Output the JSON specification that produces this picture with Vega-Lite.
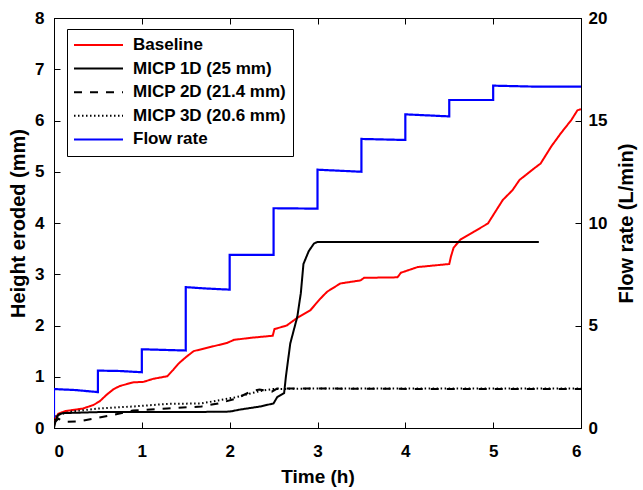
{
  "$schema": "https://vega.github.io/schema/vega-lite/v6.json",
  "width": 527,
  "height": 410,
  "autosize": "none",
  "padding": {"left": 54, "top": 18, "right": 62, "bottom": 62},
  "background": "white",
  "config": {
    "font": "Liberation Sans",
    "view": {"stroke": "black", "strokeWidth": 1},
    "axis": {
      "grid": false,
      "labelFont": "Liberation Sans",
      "labelFontWeight": "bold",
      "labelFontSize": 17,
      "labelColor": "black",
      "titleFont": "Liberation Sans",
      "titleFontWeight": "bold",
      "titleColor": "black",
      "tickColor": "black",
      "domainColor": "black",
      "tickSize": -6,
      "tickWidth": 1
    },
    "legend": {
      "labelFont": "Liberation Sans",
      "labelFontWeight": "bold",
      "labelFontSize": 17,
      "labelColor": "black",
      "symbolType": "stroke",
      "symbolSize": 2401,
      "symbolStrokeWidth": 2,
      "clipHeight": 20,
      "rowPadding": 3.6,
      "padding": 6,
      "labelOffset": 9,
      "strokeColor": "black",
      "fillColor": "white"
    }
  },
  "datasets": {
    "height": [
      {"t": 0, "h": 0.05, "series": "Baseline"},
      {"t": 0.02, "h": 0.2, "series": "Baseline"},
      {"t": 0.05, "h": 0.28, "series": "Baseline"},
      {"t": 0.13, "h": 0.33, "series": "Baseline"},
      {"t": 0.33, "h": 0.38, "series": "Baseline"},
      {"t": 0.45, "h": 0.45, "series": "Baseline"},
      {"t": 0.52, "h": 0.52, "series": "Baseline"},
      {"t": 0.6, "h": 0.65, "series": "Baseline"},
      {"t": 0.68, "h": 0.76, "series": "Baseline"},
      {"t": 0.75, "h": 0.82, "series": "Baseline"},
      {"t": 0.9, "h": 0.89, "series": "Baseline"},
      {"t": 1.02, "h": 0.9, "series": "Baseline"},
      {"t": 1.13, "h": 0.96, "series": "Baseline"},
      {"t": 1.29, "h": 1.01, "series": "Baseline"},
      {"t": 1.36, "h": 1.14, "series": "Baseline"},
      {"t": 1.42, "h": 1.26, "series": "Baseline"},
      {"t": 1.5, "h": 1.38, "series": "Baseline"},
      {"t": 1.59, "h": 1.5, "series": "Baseline"},
      {"t": 1.78, "h": 1.58, "series": "Baseline"},
      {"t": 1.97, "h": 1.66, "series": "Baseline"},
      {"t": 2.05, "h": 1.72, "series": "Baseline"},
      {"t": 2.24, "h": 1.76, "series": "Baseline"},
      {"t": 2.49, "h": 1.8, "series": "Baseline"},
      {"t": 2.51, "h": 1.93, "series": "Baseline"},
      {"t": 2.65, "h": 2.0, "series": "Baseline"},
      {"t": 2.77, "h": 2.15, "series": "Baseline"},
      {"t": 2.92, "h": 2.3, "series": "Baseline"},
      {"t": 2.97, "h": 2.4, "series": "Baseline"},
      {"t": 3.03, "h": 2.52, "series": "Baseline"},
      {"t": 3.11, "h": 2.66, "series": "Baseline"},
      {"t": 3.26, "h": 2.82, "series": "Baseline"},
      {"t": 3.49, "h": 2.88, "series": "Baseline"},
      {"t": 3.53, "h": 2.93, "series": "Baseline"},
      {"t": 3.91, "h": 2.94, "series": "Baseline"},
      {"t": 3.95, "h": 3.03, "series": "Baseline"},
      {"t": 4.14, "h": 3.14, "series": "Baseline"},
      {"t": 4.5, "h": 3.2, "series": "Baseline"},
      {"t": 4.52, "h": 3.35, "series": "Baseline"},
      {"t": 4.55, "h": 3.52, "series": "Baseline"},
      {"t": 4.63, "h": 3.68, "series": "Baseline"},
      {"t": 4.78, "h": 3.83, "series": "Baseline"},
      {"t": 4.94, "h": 3.99, "series": "Baseline"},
      {"t": 5.01, "h": 4.18, "series": "Baseline"},
      {"t": 5.11, "h": 4.45, "series": "Baseline"},
      {"t": 5.22, "h": 4.64, "series": "Baseline"},
      {"t": 5.3, "h": 4.84, "series": "Baseline"},
      {"t": 5.47, "h": 5.07, "series": "Baseline"},
      {"t": 5.54, "h": 5.16, "series": "Baseline"},
      {"t": 5.66, "h": 5.49, "series": "Baseline"},
      {"t": 5.77, "h": 5.75, "series": "Baseline"},
      {"t": 5.89, "h": 6.01, "series": "Baseline"},
      {"t": 5.96, "h": 6.2, "series": "Baseline"},
      {"t": 6.0, "h": 6.22, "series": "Baseline"},

      {"t": 0, "h": 0.0, "series": "MICP 1D (25 mm)"},
      {"t": 0.02, "h": 0.15, "series": "MICP 1D (25 mm)"},
      {"t": 0.05, "h": 0.26, "series": "MICP 1D (25 mm)"},
      {"t": 0.1, "h": 0.29, "series": "MICP 1D (25 mm)"},
      {"t": 0.5, "h": 0.31, "series": "MICP 1D (25 mm)"},
      {"t": 1.0, "h": 0.31, "series": "MICP 1D (25 mm)"},
      {"t": 1.5, "h": 0.31, "series": "MICP 1D (25 mm)"},
      {"t": 2.0, "h": 0.32, "series": "MICP 1D (25 mm)"},
      {"t": 2.12, "h": 0.36, "series": "MICP 1D (25 mm)"},
      {"t": 2.35, "h": 0.42, "series": "MICP 1D (25 mm)"},
      {"t": 2.5, "h": 0.48, "series": "MICP 1D (25 mm)"},
      {"t": 2.54, "h": 0.6, "series": "MICP 1D (25 mm)"},
      {"t": 2.62, "h": 0.68, "series": "MICP 1D (25 mm)"},
      {"t": 2.64, "h": 1.0, "series": "MICP 1D (25 mm)"},
      {"t": 2.69, "h": 1.65, "series": "MICP 1D (25 mm)"},
      {"t": 2.77, "h": 2.17, "series": "MICP 1D (25 mm)"},
      {"t": 2.81, "h": 2.63, "series": "MICP 1D (25 mm)"},
      {"t": 2.84, "h": 3.2, "series": "MICP 1D (25 mm)"},
      {"t": 2.9, "h": 3.45, "series": "MICP 1D (25 mm)"},
      {"t": 2.96, "h": 3.6, "series": "MICP 1D (25 mm)"},
      {"t": 3.0, "h": 3.63, "series": "MICP 1D (25 mm)"},
      {"t": 4.0, "h": 3.63, "series": "MICP 1D (25 mm)"},
      {"t": 5.0, "h": 3.63, "series": "MICP 1D (25 mm)"},
      {"t": 5.52, "h": 3.63, "series": "MICP 1D (25 mm)"},

      {"t": 0, "h": 0.1, "series": "MICP 2D (21.4 mm)"},
      {"t": 0.05, "h": 0.18, "series": "MICP 2D (21.4 mm)"},
      {"t": 0.13, "h": 0.12, "series": "MICP 2D (21.4 mm)"},
      {"t": 0.28, "h": 0.13, "series": "MICP 2D (21.4 mm)"},
      {"t": 0.47, "h": 0.19, "series": "MICP 2D (21.4 mm)"},
      {"t": 0.66, "h": 0.25, "series": "MICP 2D (21.4 mm)"},
      {"t": 0.9, "h": 0.34, "series": "MICP 2D (21.4 mm)"},
      {"t": 1.29, "h": 0.38, "series": "MICP 2D (21.4 mm)"},
      {"t": 1.68, "h": 0.42, "series": "MICP 2D (21.4 mm)"},
      {"t": 1.87, "h": 0.48, "series": "MICP 2D (21.4 mm)"},
      {"t": 2.07, "h": 0.57, "series": "MICP 2D (21.4 mm)"},
      {"t": 2.25, "h": 0.72, "series": "MICP 2D (21.4 mm)"},
      {"t": 2.34, "h": 0.75, "series": "MICP 2D (21.4 mm)"},
      {"t": 2.48, "h": 0.71, "series": "MICP 2D (21.4 mm)"},
      {"t": 2.54, "h": 0.77, "series": "MICP 2D (21.4 mm)"},
      {"t": 3.0, "h": 0.77, "series": "MICP 2D (21.4 mm)"},
      {"t": 4.5, "h": 0.76, "series": "MICP 2D (21.4 mm)"},
      {"t": 6.0, "h": 0.76, "series": "MICP 2D (21.4 mm)"},

      {"t": 0, "h": 0.15, "series": "MICP 3D (20.6 mm)"},
      {"t": 0.03, "h": 0.25, "series": "MICP 3D (20.6 mm)"},
      {"t": 0.2, "h": 0.32, "series": "MICP 3D (20.6 mm)"},
      {"t": 0.5, "h": 0.38, "series": "MICP 3D (20.6 mm)"},
      {"t": 0.9, "h": 0.42, "series": "MICP 3D (20.6 mm)"},
      {"t": 1.29, "h": 0.47, "series": "MICP 3D (20.6 mm)"},
      {"t": 1.68, "h": 0.48, "series": "MICP 3D (20.6 mm)"},
      {"t": 2.07, "h": 0.6, "series": "MICP 3D (20.6 mm)"},
      {"t": 2.34, "h": 0.72, "series": "MICP 3D (20.6 mm)"},
      {"t": 2.49, "h": 0.76, "series": "MICP 3D (20.6 mm)"},
      {"t": 3.0, "h": 0.77, "series": "MICP 3D (20.6 mm)"},
      {"t": 6.0, "h": 0.77, "series": "MICP 3D (20.6 mm)"}
    ],
    "flow": [
      {"i": 0, "t": 0, "q": 0.5, "series": "Flow rate"},
      {"i": 1, "t": 0, "q": 1.9, "series": "Flow rate"},
      {"i": 2, "t": 0.25, "q": 1.85, "series": "Flow rate"},
      {"i": 3, "t": 0.5, "q": 1.75, "series": "Flow rate"},
      {"i": 4, "t": 0.5, "q": 2.8, "series": "Flow rate"},
      {"i": 5, "t": 0.75, "q": 2.78, "series": "Flow rate"},
      {"i": 6, "t": 1.0, "q": 2.72, "series": "Flow rate"},
      {"i": 7, "t": 1.0, "q": 3.84, "series": "Flow rate"},
      {"i": 8, "t": 1.5, "q": 3.78, "series": "Flow rate"},
      {"i": 9, "t": 1.5, "q": 6.87, "series": "Flow rate"},
      {"i": 10, "t": 1.75, "q": 6.8, "series": "Flow rate"},
      {"i": 11, "t": 2.0, "q": 6.75, "series": "Flow rate"},
      {"i": 12, "t": 2.0, "q": 8.45, "series": "Flow rate"},
      {"i": 13, "t": 2.5, "q": 8.45, "series": "Flow rate"},
      {"i": 14, "t": 2.5, "q": 10.72, "series": "Flow rate"},
      {"i": 15, "t": 3.0, "q": 10.7, "series": "Flow rate"},
      {"i": 16, "t": 3.0, "q": 12.6, "series": "Flow rate"},
      {"i": 17, "t": 3.5, "q": 12.5, "series": "Flow rate"},
      {"i": 18, "t": 3.5, "q": 14.1, "series": "Flow rate"},
      {"i": 19, "t": 4.0, "q": 14.05, "series": "Flow rate"},
      {"i": 20, "t": 4.0, "q": 15.3, "series": "Flow rate"},
      {"i": 21, "t": 4.5, "q": 15.2, "series": "Flow rate"},
      {"i": 22, "t": 4.5, "q": 16.0, "series": "Flow rate"},
      {"i": 23, "t": 5.0, "q": 16.0, "series": "Flow rate"},
      {"i": 24, "t": 5.0, "q": 16.7, "series": "Flow rate"},
      {"i": 25, "t": 5.5, "q": 16.65, "series": "Flow rate"},
      {"i": 26, "t": 6.0, "q": 16.65, "series": "Flow rate"}
    ]
  },
  "layer": [
    {
      "data": {"name": "height"},
      "mark": {"type": "line", "strokeWidth": 2, "clip": true},
      "encoding": {
        "x": {
          "field": "t", "type": "quantitative",
          "scale": {"domain": [0, 6], "nice": false, "zero": false},
          "axis": {"orient": "bottom", "title": "Time (h)", "values": [0, 1, 2, 3, 4, 5, 6], "titleFontSize": 19, "labelPadding": 21, "titlePadding": 8}
        },
        "y": {
          "field": "h", "type": "quantitative",
          "scale": {"domain": [0, 8], "nice": false},
          "axis": {"orient": "left", "title": "Height eroded (mm)", "values": [0, 1, 2, 3, 4, 5, 6, 7, 8], "titleFontSize": 20, "labelPadding": 16, "titlePadding": 6}
        },
        "color": {
          "field": "series", "type": "nominal",
          "scale": {
            "domain": ["Baseline", "MICP 1D (25 mm)", "MICP 2D (21.4 mm)", "MICP 3D (20.6 mm)", "Flow rate"],
            "range": ["#ff0000", "#000000", "#000000", "#000000", "#0000ff"]
          },
          "legend": {"title": null, "orient": "none", "legendX": 13, "legendY": 11}
        },
        "strokeDash": {
          "field": "series", "type": "nominal",
          "scale": {
            "domain": ["Baseline", "MICP 1D (25 mm)", "MICP 2D (21.4 mm)", "MICP 3D (20.6 mm)", "Flow rate"],
            "range": [[1, 0], [1, 0], [8, 8], [1.5, 2.5], [1, 0]]
          },
          "legend": {"title": null, "orient": "none", "legendX": 13, "legendY": 11}
        }
      }
    },
    {
      "data": {"name": "flow"},
      "mark": {"type": "line", "strokeWidth": 2.2, "clip": true},
      "encoding": {
        "x": {
          "field": "t", "type": "quantitative",
          "scale": {"domain": [0, 6], "nice": false, "zero": false},
          "axis": {"orient": "top", "title": null, "labels": false, "values": [0, 1, 2, 3, 4, 5, 6]}
        },
        "y": {
          "field": "q", "type": "quantitative",
          "scale": {"domain": [0, 20], "nice": false},
          "axis": {"orient": "right", "title": "Flow rate (L/min)", "titleAngle": 270, "titleBaseline": "top", "values": [0, 5, 10, 15, 20], "titleFontSize": 20, "labelPadding": 13, "titlePadding": 10}
        },
        "order": {"field": "i", "type": "quantitative"},
        "color": {
          "field": "series", "type": "nominal",
          "scale": {
            "domain": ["Baseline", "MICP 1D (25 mm)", "MICP 2D (21.4 mm)", "MICP 3D (20.6 mm)", "Flow rate"],
            "range": ["#ff0000", "#000000", "#000000", "#000000", "#0000ff"]
          },
          "legend": {"title": null, "orient": "none", "legendX": 13, "legendY": 11}
        },
        "strokeDash": {
          "field": "series", "type": "nominal",
          "scale": {
            "domain": ["Baseline", "MICP 1D (25 mm)", "MICP 2D (21.4 mm)", "MICP 3D (20.6 mm)", "Flow rate"],
            "range": [[1, 0], [1, 0], [8, 8], [1.5, 2.5], [1, 0]]
          },
          "legend": {"title": null, "orient": "none", "legendX": 13, "legendY": 11}
        }
      }
    }
  ],
  "resolve": {"scale": {"y": "independent"}}
}
